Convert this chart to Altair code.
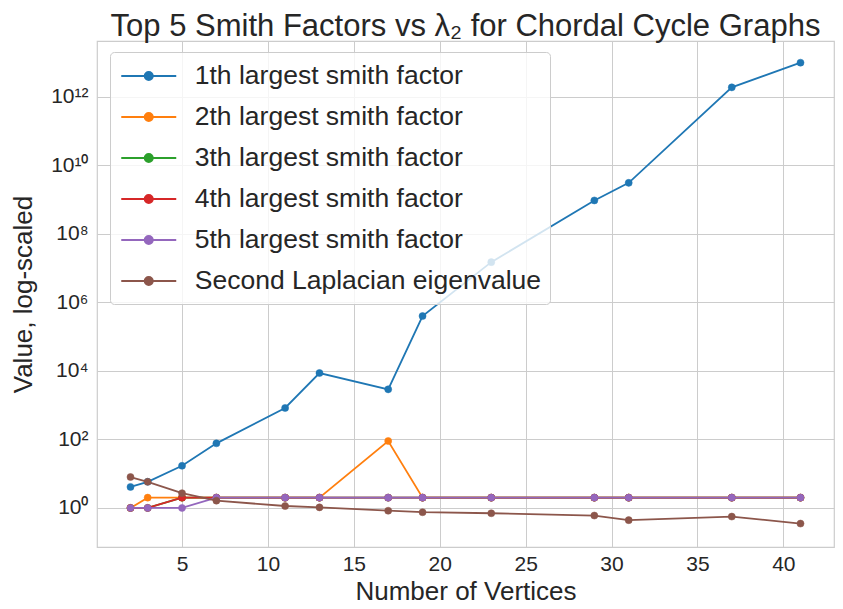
import altair as alt
import pandas as pd

vertices = [2, 3, 5, 7, 11, 13, 17, 19, 23, 29, 31, 37, 41]
sf1 = [4.1, 5.8, 17, 77, 830, 8700, 2900, 4.0e5, 1.5e7, 9.5e8, 3.1e9, 1.9e12, 1.0e13]
sf2 = [1, 2, 2, 2, 2, 2, 90, 2, 2, 2, 2, 2, 2]
sf3 = [1, 1, 2, 2, 2, 2, 2, 2, 2, 2, 2, 2, 2]
sf4 = [1, 1, 2, 2, 2, 2, 2, 2, 2, 2, 2, 2, 2]
sf5 = [1, 1, 1, 2, 2, 2, 2, 2, 2, 2, 2, 2, 2]
lam2 = [8.0, 5.8, 2.7, 1.63, 1.14, 1.04, 0.83, 0.75, 0.70, 0.60, 0.44, 0.56, 0.35]

names = [
    "1th largest smith factor",
    "2th largest smith factor",
    "3th largest smith factor",
    "4th largest smith factor",
    "5th largest smith factor",
    "Second Laplacian eigenvalue",
]
colors = ["#1f77b4", "#ff7f0e", "#2ca02c", "#d62728", "#9467bd", "#8c564b"]
series = [sf1, sf2, sf3, sf4, sf5, lam2]
x_ticks = [5, 10, 15, 20, 25, 30, 35, 40]
y_ticks = [1, 1e2, 1e4, 1e6, 1e8, 1e10, 1e12]

rows = []
for name, vals in zip(names, series):
    for v, y in zip(vertices, vals):
        rows.append({"series": name, "n": v, "value": y})
df = pd.DataFrame(rows)

FONT = "Liberation Sans"
TXT = "#262626"

sym = "M-2,0L2,0M-0.29,0A0.29,0.29,0,1,0,0.29,0A0.29,0.29,0,1,0,-0.29,0Z"
legend = alt.Legend(
    title=None, orient="none", legendX=13, legendY=11,
    labelFontSize=26.5, labelFont=FONT, labelColor=TXT, labelLimit=0,
    symbolType=sym, symbolSize=756, symbolStrokeWidth=2, symbolOffset=14.75,
    fillColor="rgba(255,255,255,0.8)", strokeColor="#cccccc",
    cornerRadius=4, padding=9, labelOffset=31, rowPadding=12,
)
scale = alt.Scale(domain=names, range=colors)

xenc = alt.X("n:Q", scale=alt.Scale(domain=[0.05, 42.95], nice=False, zero=False),
             axis=alt.Axis(values=x_ticks, title="Number of Vertices"))
yenc = alt.Y("value:Q", scale=alt.Scale(type="log", domain=[0.0724, 4.29e13], nice=False),
             axis=alt.Axis(values=y_ticks, title="Value, log-scaled",
                           labelExpr="datum.value == 1 ? '10⁰' : datum.value == 100 ? '10²' : datum.value == 10000 ? '10⁴' : datum.value == 1000000 ? '10⁶' : datum.value == 100000000 ? '10⁸' : datum.value == 10000000000 ? '10¹⁰' : '10¹²'"))

layers = []
for name in names:
    base = alt.Chart(df).transform_filter(alt.datum.series == name)
    line = base.mark_line(strokeWidth=1.8).encode(
        x=xenc, y=yenc,
        stroke=alt.Stroke("series:N", scale=scale, legend=legend),
    )
    pts = base.mark_point(filled=True, size=50, strokeWidth=0.5, opacity=1).encode(
        x=xenc, y=yenc,
        fill=alt.Fill("series:N", scale=scale, legend=legend),
        stroke=alt.Stroke("series:N", scale=scale, legend=legend),
    )
    layers += [line, pts]

chart = alt.layer(*layers).properties(
    width=737, height=506,
    title=alt.TitleParams("Top 5 Smith Factors vs λ₂ for Chordal Cycle Graphs",
                          font=FONT, fontSize=31, fontWeight="normal", color=TXT,
                          anchor="middle", offset=-2),
    autosize=alt.AutoSizeParams(type="none"),
    padding={"left": 89, "top": 33, "right": 1, "bottom": 58},
).configure_view(stroke="#cccccc", strokeWidth=1.2).configure_axis(
    grid=True, gridColor="#cccccc", gridWidth=1, domain=False, ticks=False,
    labelFont=FONT, labelFontSize=21, labelColor=TXT,
    titleFont=FONT, titleFontSize=26, titleColor=TXT, titleFontWeight="normal",
).configure_axisX(labelPadding=6, titlePadding=4).configure_axisY(labelPadding=9, titlePadding=14)

chart.save("out.html", embed_options={"renderer": "svg", "actions": False})
